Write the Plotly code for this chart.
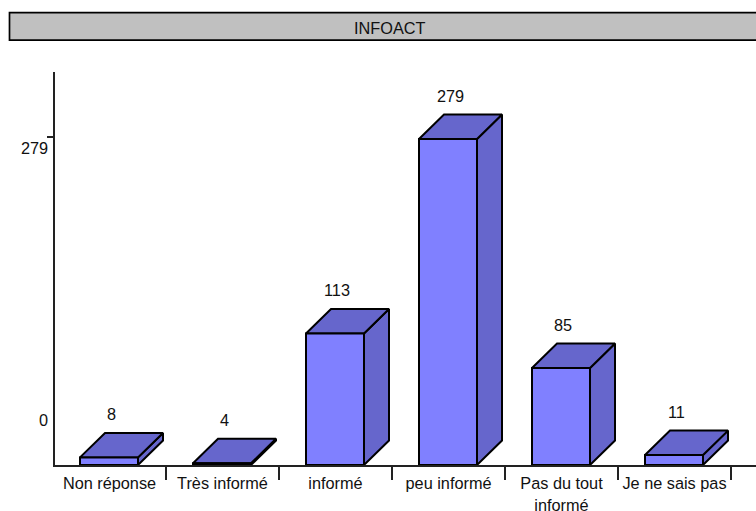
import plotly.graph_objects as go

categories = ["Non réponse", "Très informé", "informé", "peu informé", "Pas du tout<br>informé", "Je ne sais pas"]
value_labels = [8, 4, 113, 279, 85, 11]
bar_heights = [6.5, 1.5, 112.5, 279, 83, 8.5]
y_tick_labels = ["279", "0"]
title_text = "INFOACT"

W, H = 756, 511
L, T, B = 55, 72, 45.5
PX_PER_CAT = 113.0
PX_PER_VAL = 1.17
FONT = "Liberation Sans"
FS = 16.3

x0 = -0.5 + 2 / PX_PER_CAT
x1 = x0 + (W - L) / PX_PER_CAT
y1 = (H - T - B) / PX_PER_VAL

half = 29 / PX_PER_CAT
cx_off = -0.5 / PX_PER_CAT
dx = 25 / PX_PER_CAT
dy = 24.5 / PX_PER_VAL
FRONT, SHADE = "#8080ff", "#6666cc"


def px(p):
    return (p - L) / (W - L)


def py(p):
    return (H - B - p) / (H - T - B)


fig = go.Figure()


def poly(xs, ys, color):
    fig.add_trace(go.Scatter(
        x=xs + xs[:1], y=ys + ys[:1], mode="lines", fill="toself", fillcolor=color,
        line=dict(color="black", width=2), hoverinfo="skip", showlegend=False, cliponaxis=False,
    ))


for i, v in enumerate(bar_heights):
    a = i + cx_off - half
    b = i + cx_off + half
    poly([b, b + dx, b + dx, b], [0, dy, v + dy, v], SHADE)
    poly([a, b, b + dx, a + dx], [v, v, v + dy, v + dy], SHADE)
    poly([a, b, b, a], [0, 0, v, v], FRONT)

ann = []
for i, (v, lab) in enumerate(zip(bar_heights, value_labels)):
    ann.append(dict(x=i + cx_off + 2 / PX_PER_CAT, y=v + dy, xref="x", yref="y", text=str(lab), showarrow=False,
                    yshift=18.6, xanchor="center", yanchor="middle"))
ann.append(dict(x=x0, y=279, xref="x", yref="y", text=y_tick_labels[0], showarrow=False,
                xanchor="right", yanchor="middle", xshift=-5, yshift=-9))
ann.append(dict(x=x0, y=0, xref="x", yref="y", text=y_tick_labels[1], showarrow=False,
                xanchor="right", yanchor="middle", xshift=-5, yshift=45))
ann.append(dict(x=px(390), y=py(28), xref="paper", yref="paper", text=title_text, showarrow=False,
                xanchor="center", yanchor="middle"))

fig.update_layout(
    width=W, height=H, autosize=False,
    margin=dict(l=L, r=0, t=T, b=B, pad=0, autoexpand=False),
    paper_bgcolor="white", plot_bgcolor="white",
    font=dict(family=FONT, size=FS, color="#111111"),
    showlegend=False,
    annotations=ann,
    shapes=[dict(type="rect", xref="paper", yref="paper", layer="below",
                 x0=px(9.5), x1=px(760), y0=py(40), y1=py(12.5),
                 fillcolor="#c0c0c0", line=dict(color="black", width=1.7))],
    xaxis=dict(range=[x0, x1], showgrid=False, zeroline=False, showline=True, linecolor="#222222", linewidth=1.5,
               automargin=False,
               tickmode="array", tickvals=list(range(len(categories))), ticktext=categories,
               ticks="", ticklabelstandoff=3, tickfont=dict(size=FS),
               minor=dict(tickmode="array", tickvals=[i + 0.5 for i in range(len(categories))],
                          ticks="outside", ticklen=13, tickwidth=1.5, tickcolor="#222222", showgrid=False)),
    yaxis=dict(range=[0, y1], showgrid=False, zeroline=False, showline=True, linecolor="#222222", linewidth=1.5,
               automargin=False,
               tickmode="array", tickvals=[280.5], ticktext=[""], ticks="outside", ticklen=6, tickwidth=1.5,
               tickcolor="#222222"),
)
fig.write_html("out.html", config=dict(displayModeBar=False),
               post_script="document.body.style.margin='0';document.body.style.overflow='hidden';")
